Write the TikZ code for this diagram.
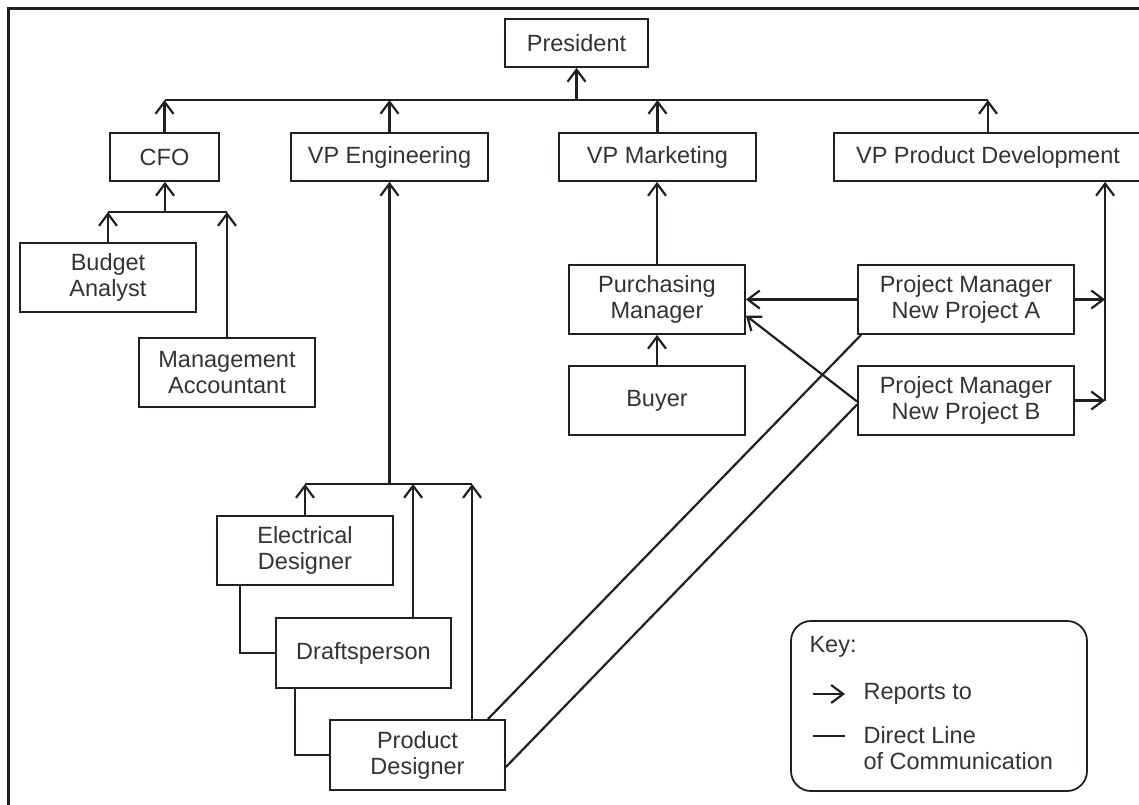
\documentclass[tikz,border=0pt]{standalone}
\usepackage{fontspec}
\setmainfont{Liberation Sans}
\usetikzlibrary{arrows.meta,calc}
\definecolor{ink}{HTML}{231F20}
\definecolor{txt}{HTML}{333333}
\begin{document}
\begin{tikzpicture}[x=1pt,y=-1pt,
  every node/.style={font=\fontsize{23.5}{26}\selectfont, text=txt},
  box/.style={draw=ink, line width=1.8pt, align=center, inner sep=0pt, minimum height=48},
  tall/.style={box, minimum height=69, minimum width=176},
  conn/.style={draw=ink, line width=2.2pt},
  reports/.style={conn, -{Straight Barb[length=12pt,width=18pt]}},
  frame/.style={draw=ink, line width=3pt}]
\useasboundingbox (0,0) rectangle (1139,804);
\clip (0,0) rectangle (1139,804);
\draw[frame] (8,820) -- (8,8) -- (1150,8);

% nodes
\node[box, minimum width=143] (president) at (576.5,43) {President};
\node[box, minimum width=109] (cfo) at (164.5,157) {CFO};
\node[box, minimum width=197] (vpe) at (389.5,157) {VP Engineering};
\node[box, minimum width=197] (vpm) at (657.5,157) {VP Marketing};
\node[box, minimum width=308] (vppd) at (988,157) {VP Product Development};
\node[tall] (budget) at (108,277.5) {Budget\\Analyst};
\node[tall] (mgmt) at (227,372.5) {Management\\Accountant};
\node[tall] (pm) at (657,299.5) {Purchasing\\Manager};
\node[tall] (buyer) at (657,400.5) {Buyer};
\node[tall, minimum width=216] (pma) at (966,299.5) {Project Manager\\New Project A};
\node[tall, minimum width=216] (pmb) at (966,400.5) {Project Manager\\New Project B};
\node[tall] (ed) at (305,550.5) {Electrical\\Designer};
\node[tall, minimum height=70, minimum width=175] (draft) at (363.5,653) {Draftsperson};
\node[tall, minimum height=70, minimum width=175] (pd) at (417.5,755) {Product\\Designer};

% top bus
\coordinate (topbus) at (576.5,100);
\draw[conn] (cfo.north|-topbus) -- (vppd.north|-topbus);
\draw[reports] (topbus) -- (president.south);
\draw[reports] (cfo.north) -- (cfo.north|-topbus);
\draw[reports] (vpe.north) -- (vpe.north|-topbus);
\draw[reports] (vpm.north) -- (vpm.north|-topbus);
\draw[reports] (vppd.north) -- (vppd.north|-topbus);

% CFO bus
\coordinate (cfobus) at (165,212);
\draw[reports] (cfobus) -- (cfo.south-|cfobus);
\draw[conn] (budget.north|-cfobus) -- (mgmt.north|-cfobus);
\draw[reports] (budget.north) -- (budget.north|-cfobus);
\draw[reports] (mgmt.north) -- (mgmt.north|-cfobus);

% Engineering bus
\coordinate (engbus) at (389.5,484);
\coordinate (dtop) at ($(draft.north west)+(138,0)$);
\coordinate (ptop) at ($(pd.north west)+(143,0)$);
\draw[reports] (engbus) -- (vpe.south);
\draw[conn] (ed.north|-engbus) -- (ptop|-engbus);
\draw[reports] (ed.north) -- (ed.north|-engbus);
\draw[reports] (dtop) -- (dtop|-engbus);
\draw[reports] (ptop) -- (ptop|-engbus);
\draw[conn] ($(ed.south west)+(24,0)$) |- (draft.west);
\draw[conn] ($(draft.south west)+(20,0)$) |- (pd.west);

% Marketing
\draw[reports] (pm.north) -- (vpm.south-|pm.north);
\draw[reports] (buyer.north) -- (pm.south);
\draw[reports] (pma.west) -- (pm.east);
\draw[reports] ($(pmb.west)+(0,1)$) -- ($(pm.east)+(0,16)$);

% Product development
\coordinate (pdx) at ($(vppd.south west)+(272,0)$);
\draw[conn] (pmb.east-|pdx) -- (pma.east-|pdx);
\draw[reports] (pma.east-|pdx) -- (pdx);
\draw[reports] (pma.east) -- (pma.east-|pdx);
\draw[reports] (pmb.east) -- (pmb.east-|pdx);

% communication lines
\draw[conn] ($(pma.south west)+(4,0)$) -- ($(pd.north east)+(-18,0)$);
\draw[conn] ($(pmb.west)+(0,4)$) -- ($(pd.east)+(0,12)$);

% key
\node[draw=ink, line width=1.8pt, rounded corners=20pt, minimum width=296, minimum height=170] (key) at (939,706) {};
\node[anchor=west] (keylabel) at (806,647) {Key:};
\coordinate (ka1) at (813,694);
\coordinate (ka2) at (845,694);
\draw[reports] (ka1) -- (ka2);
\node[anchor=west] (reptxt) at (860,694) {Reports to};
\coordinate (kb1) at (813,736);
\coordinate (kb2) at (845,736);
\draw[conn] (kb1) -- (kb2);
\node[anchor=west, align=left] (dirtxt) at (860,748) {Direct Line\\of Communication};
\end{tikzpicture}
\end{document}
